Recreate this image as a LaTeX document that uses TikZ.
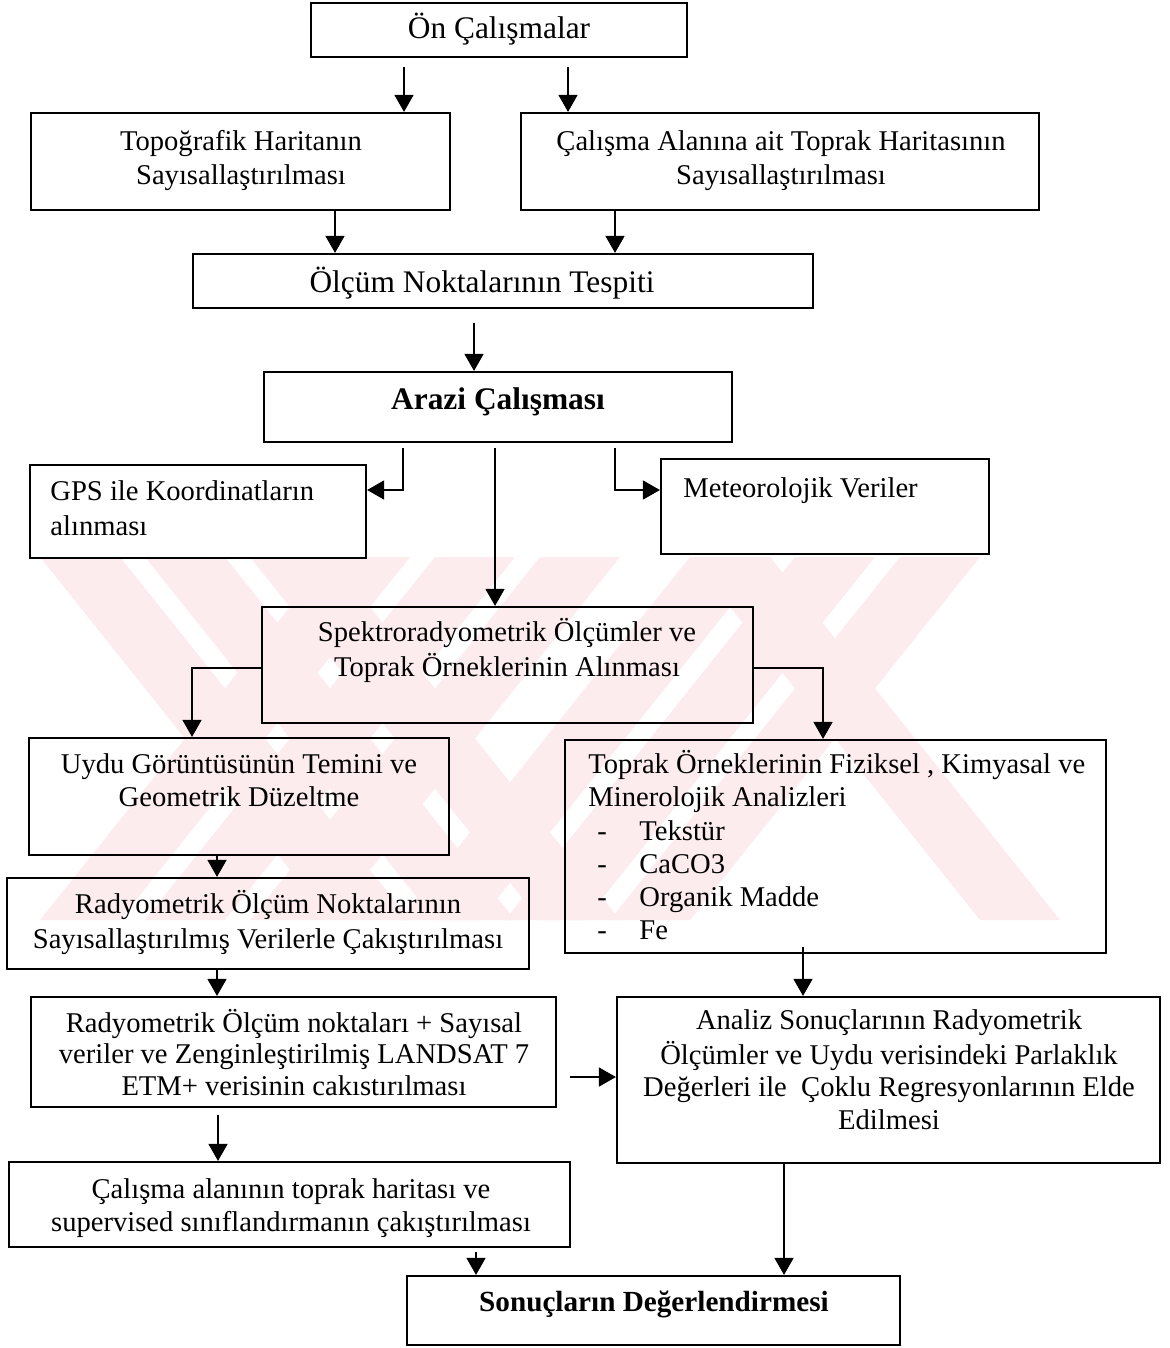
\documentclass[tikz,border=0pt]{standalone}
\usepackage{fontspec}
\setmainfont{Liberation Serif}
\usetikzlibrary{arrows.meta,fit,calc}
\definecolor{wm}{RGB}{253,236,238}
\newcommand\fs[2]{\fontsize{#1}{#2}\selectfont}
\newcommand\dashitem{\makebox[25.5pt][l]{\hspace{4.5pt}-}}
\begin{document}
\begin{tikzpicture}[x=0.5pt,y=-0.5pt,
  box/.style={draw=black, line width=1.1pt, inner sep=0pt},
  txt/.style={inner sep=0pt, align=center, font=\fs{14.3}{17}},
  txtl/.style={inner sep=0pt, align=left, anchor=north west, font=\fs{14.3}{17}},
  arr/.style={line width=0.75pt, -{Triangle[length=8.5pt,width=9.5pt]}}]
\useasboundingbox (0,0) rectangle (1170,1348);
\fill[white] (0,0) rectangle (1170,1348);
% watermark
\begin{scope}
\clip (40,557) rectangle (1060,920);
\foreach \a in {40,145,250}{
  \fill[wm] (\a,557) -- ++(80,0) -- ++(290,363) -- ++(-80,0) -- cycle;}
\foreach \a in {330,435,540,690,795,900}{
  \fill[wm] (\a,557) -- ++(80,0) -- ++(-290,363) -- ++(-80,0) -- cycle;}
\fill[wm] (690,557) -- ++(80,0) -- ++(290,363) -- ++(-80,0) -- cycle;
\end{scope}
% boxes
\node[box, fit={(311,3) (687,57)}] (on) {};
\node[box, fit={(31,113) (450,210)}] (topo) {};
\node[box, fit={(521,113) (1039,210)}] (cal) {};
\node[box, fit={(193,254) (813,308)}] (olc) {};
\node[box, fit={(264,372) (732,442)}] (arazi) {};
\node[box, fit={(30,465) (366,558)}] (gps) {};
\node[box, fit={(661,459) (989,554)}] (met) {};
\node[box, fit={(262,607) (753,723)}] (spek) {};
\node[box, fit={(29,738) (449,855)}] (uydu) {};
\node[box, fit={(565,740) (1106,953)}] (toprak) {};
\node[box, fit={(7,878) (529,969)}] (radn) {};
\node[box, fit={(31,997) (556,1107)}] (rads) {};
\node[box, fit={(617,997) (1160,1163)}] (analiz) {};
\node[box, fit={(9,1162) (570,1247)}] (cal2) {};
\node[box, fit={(407,1276) (900,1345)}] (son) {};
% texts
\node[txt, font=\fs{15.7}{17}] (on-t) at (499,31) {\strut Ön Çalışmalar};
\node[txt] (topo-t) at (241,161) {\strut Topoğrafik Haritanın\\\strut Sayısallaştırılması};
\node[txt] (cal-t) at (781,161) {\strut Çalışma Alanına ait Toprak Haritasının\\\strut Sayısallaştırılması};
\node[txt, font=\fs{15.7}{17}] (olc-t) at (482,285) {\strut Ölçüm Noktalarının Tespiti};
\node[txt, font=\fs{15.7}{17}\bfseries] (arazi-t) at (498,403) {\strut Arazi Çalışması};
\node[txtl, font=\fs{14.3}{17.5}] (gps-t) at (50,476) {\strut GPS ile Koordinatların\\\strut alınması};
\node[txtl] (met-t) at (683,473) {\strut Meteorolojik Veriler};
\node[txt, font=\fs{14.3}{17.5}] (spek-t) at (507,652) {\strut Spektroradyometrik Ölçümler ve\\\strut Toprak Örneklerinin Alınması};
\node[txt, font=\fs{14.3}{16.5}] (uydu-t) at (239,783) {\strut Uydu Görüntüsünün Temini ve\\\strut Geometrik Düzeltme};
\node[txtl, font=\fs{14.3}{16.6}] (toprak-t) at (588,750) {\strut Toprak Örneklerinin Fiziksel , Kimyasal ve\\\strut Minerolojik Analizleri\\\strut\dashitem Tekstür\\\strut\dashitem CaCO3\\\strut\dashitem Organik Madde\\\strut\dashitem Fe};
\node[txt, font=\fs{14.3}{17.5}] (radn-t) at (268,924) {\strut Radyometrik Ölçüm Noktalarının\\\strut Sayısallaştırılmış Verilerle Çakıştırılması};
\node[txt, font=\fs{14.3}{15.8}] (rads-t) at (294,1057) {\strut Radyometrik Ölçüm noktaları + Sayısal\\\strut veriler ve Zenginleştirilmiş LANDSAT 7\\\strut ETM+ verisinin cakıstırılması};
\node[txt, font=\fs{14.3}{16.2}] (analiz-t) at (889,1073) {\strut Analiz Sonuçlarının Radyometrik\\\strut Ölçümler ve Uydu verisindeki Parlaklık\\\strut Değerleri ile\ \ Çoklu Regresyonlarının Elde\\\strut Edilmesi};
\node[txt, font=\fs{14.3}{16.5}] (cal2-t) at (291,1208) {\strut Çalışma alanının toprak haritası ve\\\strut supervised sınıflandırmanın çakıştırılması};
\node[txt, font=\fs{14.6}{17}\bfseries] (son-t) at (654,1305) {\strut Sonuçların Değerlendirmesi};
% helper coordinates
\coordinate (s1) at (404,67);
\coordinate (s2) at (568,67);
\coordinate (s3) at (335,0);
\coordinate (s4) at (615,0);
\coordinate (s5) at (474,323);
\coordinate (s6) at (403,448);
\coordinate (k6) at (403,490);
\coordinate (s7) at (615,448);
\coordinate (k7) at (615,490);
\coordinate (s8) at (495,448);
\coordinate (k9) at (192,668);
\coordinate (k10) at (823,668);
\coordinate (s11) at (217,0);
\coordinate (s13) at (218,1115);
\coordinate (s14) at (476,1252);
\coordinate (s15) at (570,1077);
\coordinate (s16) at (803,947);
\coordinate (s17) at (784,0);
% connectors
\draw[arr] (s1) -- (topo.north -| s1);
\draw[arr] (s2) -- (cal.north -| s2);
\draw[arr] (topo.south -| s3) -- (olc.north -| s3);
\draw[arr] (cal.south -| s4) -- (olc.north -| s4);
\draw[arr] (s5) -- (arazi.north -| s5);
\draw[arr] (s6) -- (k6) -- (gps.east |- k6);
\draw[arr] (s7) -- (k7) -- (met.west |- k7);
\draw[arr] (s8) -- (spek.north -| s8);
\draw[arr] (spek.west |- k9) -- (k9) -- (uydu.north -| k9);
\draw[arr] (spek.east |- k10) -- (k10) -- (toprak.north -| k10);
\draw[arr] (uydu.south -| s11) -- (radn.north -| s11);
\draw[arr] (radn.south -| s11) -- (rads.north -| s11);
\draw[arr] (s13) -- (cal2.north -| s13);
\draw[arr] (s14) -- (son.north -| s14);
\draw[arr] (s15) -- (analiz.west |- s15);
\draw[arr] (s16) -- (analiz.north -| s16);
\draw[arr] (analiz.south -| s17) -- (son.north -| s17);
\end{tikzpicture}
\end{document}
